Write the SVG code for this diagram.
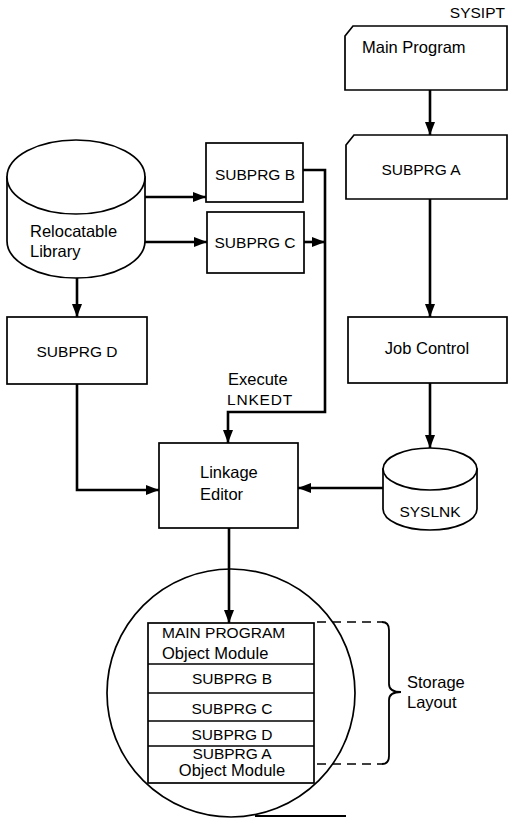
<svg xmlns="http://www.w3.org/2000/svg" width="510" height="818" viewBox="0 0 510 818">
<style>
.box{fill:#fff;stroke:#000;stroke-width:1.7}
.cyl{fill:#fff;stroke:#000;stroke-width:1.7}
.t{font-family:"Liberation Sans",Arial,sans-serif;font-size:15.5px;fill:#000}
.m{font-family:"Liberation Sans",Arial,sans-serif;font-size:16.5px;fill:#000}
.c{text-anchor:middle}
.ln{fill:none;stroke:#000;stroke-width:2.6}
.dash{fill:none;stroke:#000;stroke-width:1.6;stroke-dasharray:9 6}
.brace{fill:none;stroke:#000;stroke-width:1.8}
</style>
<defs>
<marker id="ah" markerUnits="userSpaceOnUse" markerWidth="14" markerHeight="10" refX="13" refY="5" orient="auto">
<path d="M0,0 L13,5 L0,10 Z" fill="#000"/>
</marker>
</defs>
<rect width="510" height="818" fill="#fff"/>

<g id="main-program">
<text class="t" x="505" y="18" text-anchor="end">SYSIPT</text>
<path class="box" d="M345,36 L353,26 L507,26 L507,90 L345,90 Z"/>
<text class="m" x="362" y="53">Main Program</text>
</g>

<g id="subprg-a">
<path class="box" d="M346,145 L354,135 L507,135 L507,199 L346,199 Z"/>
<text class="t c" x="421" y="175">SUBPRG A</text>
</g>

<g id="job-control">
<rect class="box" x="348" y="317" width="159" height="66"/>
<text class="m c" x="427" y="354">Job Control</text>
</g>

<g id="syslnk">
<path class="cyl" d="M383,469 L383,509 A47,21 0 0,0 477,509 L477,469 Z"/>
<ellipse class="cyl" cx="430" cy="469" rx="47" ry="21"/>
<text class="t c" x="430" y="517">SYSLNK</text>
</g>

<g id="relocatable-library">
<path class="cyl" d="M7,177 L7,241 A69,37 0 0,0 145,241 L145,177 Z"/>
<ellipse class="cyl" cx="76" cy="177" rx="69" ry="37"/>
<text class="m" x="30" y="237">Relocatable</text>
<text class="m" x="30" y="257">Library</text>
</g>

<g id="subprg-b">
<rect class="box" x="206" y="143" width="97" height="59"/>
<text class="t c" x="255" y="180">SUBPRG B</text>
</g>

<g id="subprg-c">
<rect class="box" x="207" y="212" width="97" height="61"/>
<text class="t c" x="255" y="248">SUBPRG C</text>
</g>

<g id="subprg-d">
<rect class="box" x="7" y="317" width="140" height="67"/>
<text class="t c" x="77" y="357">SUBPRG D</text>
</g>

<g id="linkage-editor">
<rect class="box" x="159" y="443" width="139" height="85"/>
<text class="m" x="200" y="478">Linkage</text>
<text class="m" x="200" y="500">Editor</text>
</g>

<g id="storage-layout">
<circle class="box" cx="231" cy="693" r="124"/>
<line x1="255" y1="816" x2="346" y2="816" stroke="#000" stroke-width="1.8"/>
<rect class="box" x="148" y="623" width="166" height="160"/>
<line x1="148" y1="664" x2="314" y2="664" stroke="#000" stroke-width="1.6"/>
<line x1="148" y1="693" x2="314" y2="693" stroke="#000" stroke-width="1.6"/>
<line x1="148" y1="721" x2="314" y2="721" stroke="#000" stroke-width="1.6"/>
<line x1="148" y1="746" x2="314" y2="746" stroke="#000" stroke-width="1.6"/>
<text class="t" x="162" y="638">MAIN PROGRAM</text>
<text class="m" x="162" y="659">Object Module</text>
<text class="t c" x="232" y="684">SUBPRG B</text>
<text class="t c" x="232" y="714">SUBPRG C</text>
<text class="t c" x="232" y="740">SUBPRG D</text>
<text class="t c" x="232" y="759">SUBPRG A</text>
<text class="m c" x="232" y="776">Object Module</text>
<path class="dash" d="M317,622 L382,622"/>
<path class="dash" d="M317,764 L382,764"/>
<path class="brace" d="M382,622 Q389,622 389,630 L389,684 Q389,692 401,692 Q389,692 389,700 L389,756 Q389,764 382,764"/>
<text class="m" x="407" y="688">Storage</text>
<text class="m" x="407" y="708">Layout</text>
</g>

<g id="labels">
<text class="m" x="228" y="385">Execute</text>
<text class="t" x="227" y="405" letter-spacing="0.8">LNKEDT</text>
</g>

<g id="connectors">
<path class="ln" d="M430,90 L430,135" marker-end="url(#ah)"/>
<path class="ln" d="M430,199 L430,317" marker-end="url(#ah)"/>
<path class="ln" d="M430,383 L430,448" marker-end="url(#ah)"/>
<path class="ln" d="M383,488 L298,488" marker-end="url(#ah)"/>
<path class="ln" d="M145,197 L206,197" marker-end="url(#ah)"/>
<path class="ln" d="M145,242 L207,242" marker-end="url(#ah)"/>
<path class="ln" d="M77,278 L77,317" marker-end="url(#ah)"/>
<path class="ln" d="M303,170 L325,170 L325,412 L228,412 L228,443" marker-end="url(#ah)"/>
<path class="ln" d="M304,242 L325,242" marker-end="url(#ah)"/>
<path class="ln" d="M77,384 L77,490 L159,490" marker-end="url(#ah)"/>
<path class="ln" d="M229,528 L229,623" marker-end="url(#ah)"/>
</g>
</svg>
